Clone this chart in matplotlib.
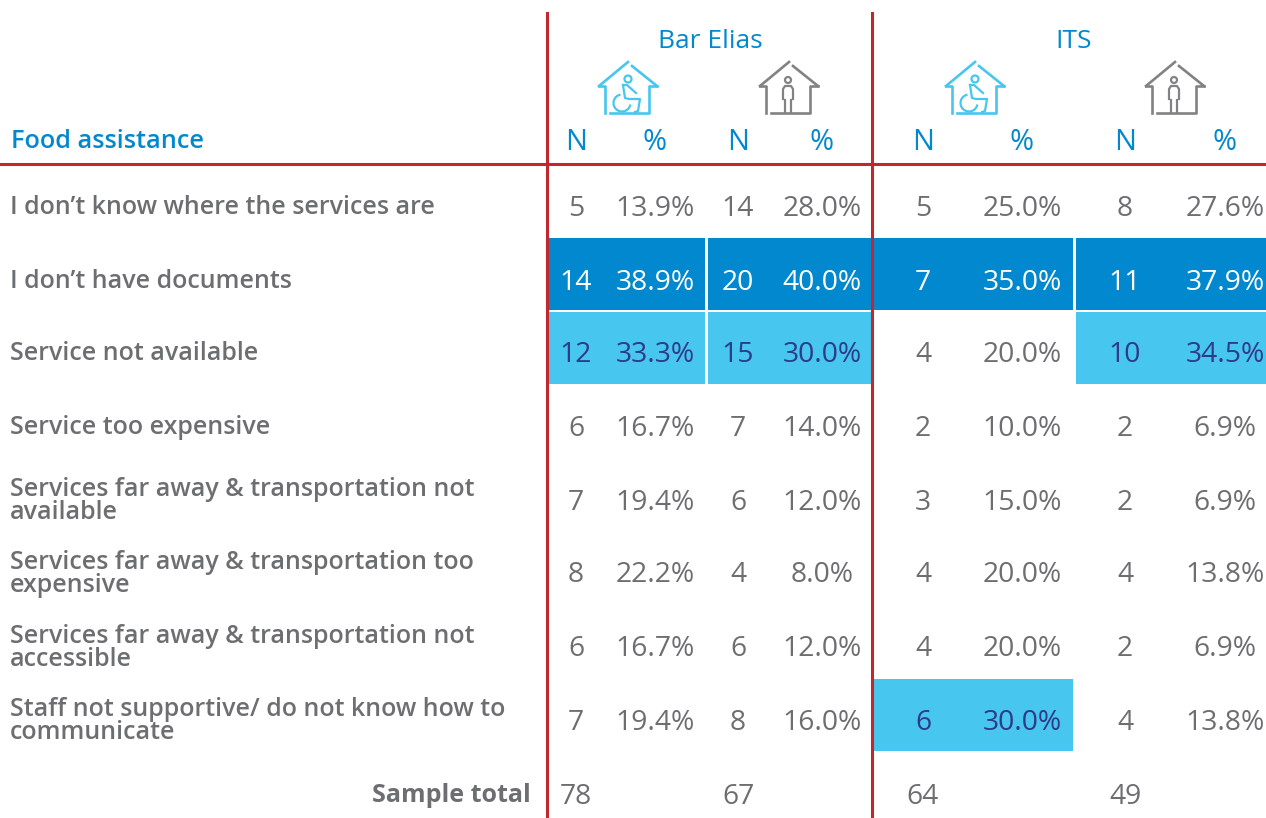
import numpy as np
import matplotlib
matplotlib.use("Agg")
import matplotlib.pyplot as plt
from matplotlib.patches import Rectangle, Circle, Arc

plt.rcParams['font.family'] = ['Open Sans', 'DejaVu Sans']

row_labels = [
    "I don\u2019t know where the services are",
    "I don\u2019t have documents",
    "Service not available",
    "Service too expensive",
    "Services far away & transportation not\navailable",
    "Services far away & transportation too\nexpensive",
    "Services far away & transportation not\naccessible",
    "Staff not supportive/ do not know how to\ncommunicate",
]
sites = ["Bar Elias", "ITS"]

be_dis_n = [5, 14, 12, 6, 7, 8, 6, 7]
be_dis_pct = [13.9, 38.9, 33.3, 16.7, 19.4, 22.2, 16.7, 19.4]
be_non_n = [14, 20, 15, 7, 6, 4, 6, 8]
be_non_pct = [28.0, 40.0, 30.0, 14.0, 12.0, 8.0, 12.0, 16.0]
its_dis_n = [5, 7, 4, 2, 3, 4, 4, 6]
its_dis_pct = [25.0, 35.0, 20.0, 10.0, 15.0, 20.0, 20.0, 30.0]
its_non_n = [8, 11, 10, 2, 2, 4, 2, 4]
its_non_pct = [27.6, 37.9, 34.5, 6.9, 6.9, 13.8, 6.9, 13.8]
sample_total = [78, 67, 64, 49]

# (row, group) of the highlighted cells
top_cells = [(1, 0), (1, 1), (1, 2), (1, 3)]
second_cells = [(2, 0), (2, 1), (2, 3), (7, 2)]

GRAY = "#6d6e71"
BLUE = "#0288ce"
LIGHT = "#47c6ef"
NAVY = "#2e3a8c"
RED = "#c1272d"
ICON_GRAY = "#808285"

n_x = [576, 738, 923, 1125]
pct_x = [655, 822, 1022, 1225]
icon_x = [628, 789, 975, 1175]
site_x = [710, 1074]
group_edges = [(548, 705), (708, 872), (873, 1073), (1076, 1266)]
row_y = [206, 279, 352, 426, 499, 572, 646, 719]

FS = 20.3
HEAD_FS = 19
LABEL_FS = 18


def house(ax, cx, base, color):
    lw = 1.9
    ax.plot([cx - 29, cx, ], [base - 27, base - 51], color=color, lw=lw)
    ax.plot([cx + 4, cx + 29], [base - 47, base - 27], color=color, lw=lw)
    ax.plot([cx - 29, cx - 23, cx - 23], [base - 27, base - 27, base], color=color, lw=lw)
    ax.plot([cx + 29, cx + 21, cx + 21, cx - 18], [base - 27, base - 27, base, base], color=color, lw=lw)


def wheelchair(ax, cx, base, color):
    lw = 1.6
    ax.add_patch(Circle((cx, base - 34), 3.5, fill=False, ec=color, lw=lw))
    ax.plot([cx - 5, cx - 3, cx + 1, cx + 12, cx + 10, cx + 7],
            [base - 28, base - 15, base - 14, base - 14, base - 2, base - 1], color=color, lw=lw)
    ax.plot([cx - 5, cx - 1, cx + 8], [base - 28, base - 28, base - 20], color=color, lw=lw)
    ax.add_patch(Arc((cx - 6, base - 10), 17, 17, theta1=10, theta2=260, ec=color, lw=lw))


def person(ax, cx, base, color):
    lw = 1.6
    ax.add_patch(Circle((cx - 1, base - 33), 3, fill=False, ec=color, lw=lw))
    ax.plot([cx - 6, cx - 6, cx - 4, cx + 2, cx + 4, cx + 4],
            [base - 14, base - 24, base - 27, base - 27, base - 24, base - 14], color=color, lw=lw)
    ax.plot([cx - 4, cx - 4], [base - 13, base - 1], color=color, lw=lw)
    ax.plot([cx + 2, cx + 2], [base - 13, base - 1], color=color, lw=lw)


fig = plt.figure(figsize=(12.66, 8.18), dpi=100)
ax = fig.add_axes([0, 0, 1, 1])
ax.set_xlim(0, 1266)
ax.set_ylim(818, 0)
ax.axis('off')

# highlighted cells
for r, g in top_cells:
    x0, x1 = group_edges[g]
    ax.add_patch(Rectangle((x0, row_y[r] - 41), x1 - x0, 72, fc=BLUE, ec='none'))
for r, g in second_cells:
    x0, x1 = group_edges[g]
    ax.add_patch(Rectangle((x0, row_y[r] - 40), x1 - x0, 72, fc=LIGHT, ec='none'))

# rules
ax.plot([0, 1266], [164, 164], color=RED, lw=2.2, zorder=3)
for x in [547, 872]:
    ax.plot([x, x], [13, 818], color=RED, lw=2.2, zorder=3)

# header
for name, x in zip(sites, site_x):
    ax.text(x, 38, name, color=BLUE, fontsize=HEAD_FS, ha='center', va='center_baseline')
for i, x in enumerate(icon_x):
    if i % 2 == 0:
        house(ax, x, 113, LIGHT)
        wheelchair(ax, x, 113, LIGHT)
    else:
        house(ax, x, 113, ICON_GRAY)
        person(ax, x, 113, ICON_GRAY)
ax.text(11, 139, "Food assistance", color=BLUE, fontsize=18.2, fontweight='semibold', ha='left', va='center_baseline')
for x in n_x:
    ax.text(x, 139, "N", color=BLUE, fontsize=21, ha='center', va='center_baseline')
for x in pct_x:
    ax.text(x, 139, "%", color=BLUE, fontsize=21, ha='center', va='center_baseline')

# body
n_cols = [be_dis_n, be_non_n, its_dis_n, its_non_n]
pct_cols = [be_dis_pct, be_non_pct, its_dis_pct, its_non_pct]
for r, label in enumerate(row_labels):
    two_lines = "\n" in label
    ax.text(10, row_y[r] + 2 if two_lines else row_y[r] - 1, label, color=GRAY, fontsize=LABEL_FS,
            fontweight='semibold', ha='left', va='center' if two_lines else 'center_baseline', linespacing=0.9)
    for g in range(4):
        c = GRAY
        if (r, g) in top_cells:
            c = "white"
        elif (r, g) in second_cells:
            c = NAVY
        ax.text(n_x[g], row_y[r], str(n_cols[g][r]), color=c, fontsize=FS, ha='center', va='center_baseline')
        ax.text(pct_x[g], row_y[r], f"{pct_cols[g][r]:.1f}%", color=c, fontsize=FS, ha='center', va='center_baseline')

ax.text(531, 793, "Sample total", color=GRAY, fontsize=LABEL_FS, fontweight='bold', ha='right', va='center_baseline')
for g, v in enumerate(sample_total):
    ax.text(n_x[g], 793, str(v), color=GRAY, fontsize=FS, ha='center', va='center_baseline')

fig.savefig("out.png", dpi=100)
